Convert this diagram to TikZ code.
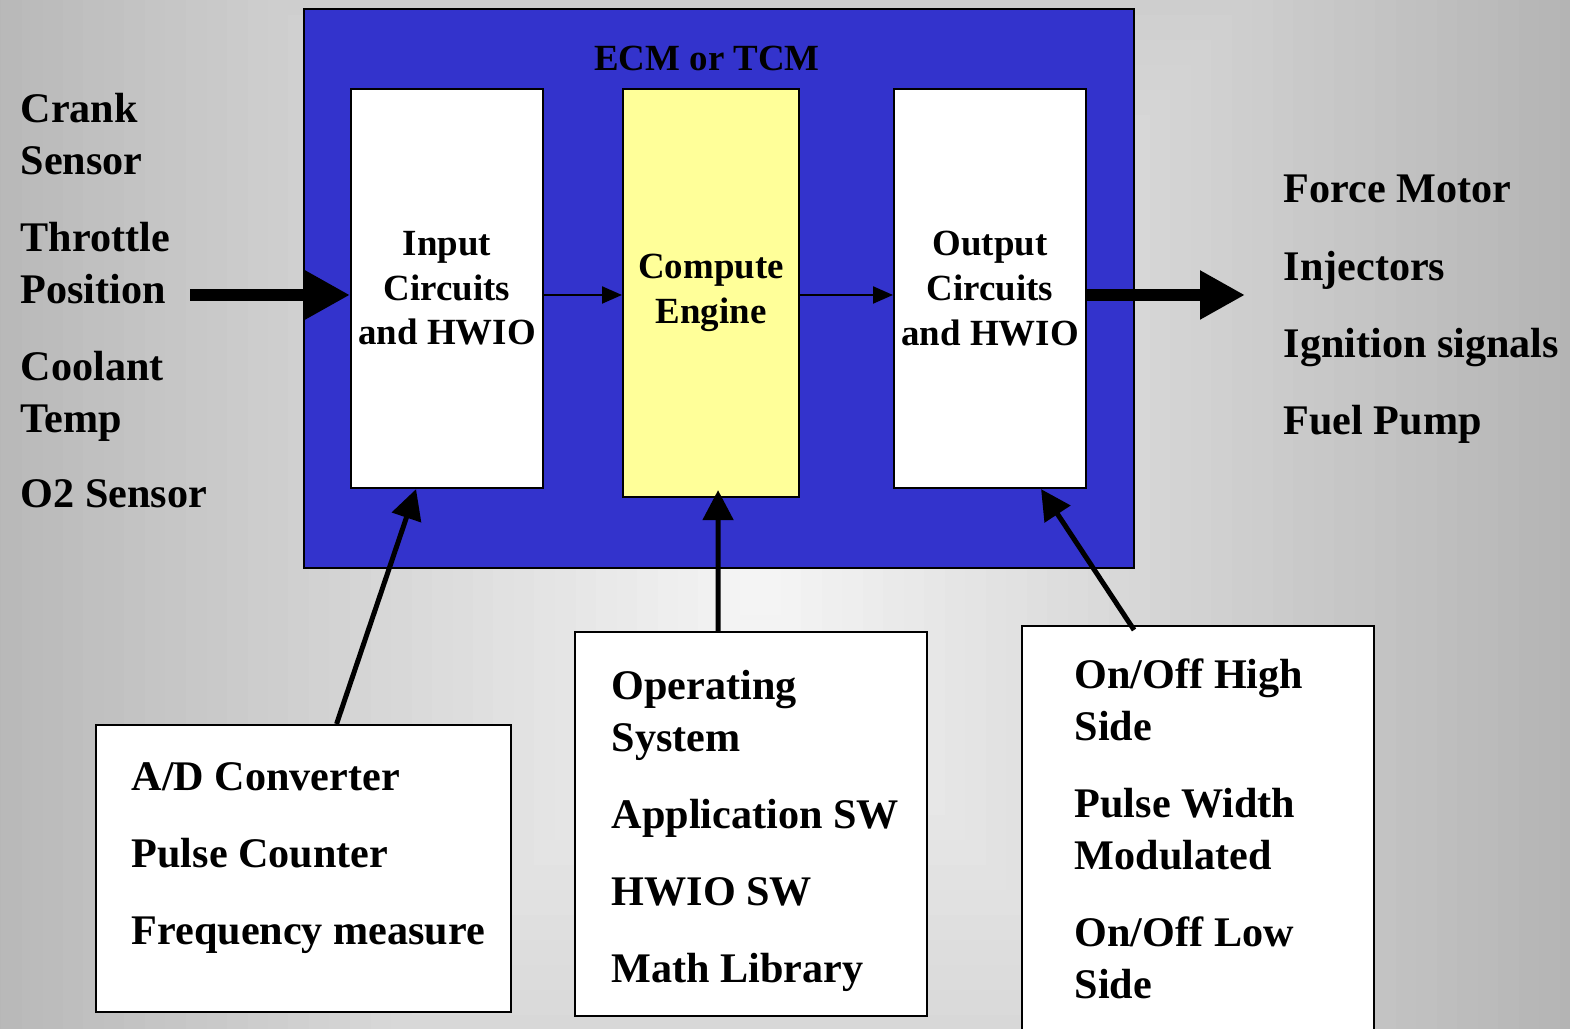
\documentclass[tikz,border=0pt]{standalone}
\usepackage{fontspec}
\setmainfont{Liberation Serif}
\usepackage{xcolor}
\usetikzlibrary{arrows.meta,positioning}

\definecolor{ecmblue}{HTML}{3333CC}
\definecolor{cpuyellow}{HTML}{FFFF99}
\definecolor{bgouter}{HTML}{B4B4B4}
\definecolor{bginner}{HTML}{F6F6F6}

\tikzset{
  module/.style={draw, line width=0.6pt, fill=white, inner sep=0pt},
  boxtext/.style={font=\fontsize{10.5}{12.7}\selectfont\bfseries, align=center},
  sigtext/.style={font=\fontsize{12}{14.8}\selectfont\bfseries, align=left, inner sep=0pt, anchor=north west},
  bigarrow/.style={line width=0.12cm, -{Triangle[length=0.45cm,width=0.46cm]}},
  thinarrow/.style={line width=0.6pt, -{Triangle[length=0.2cm,width=0.17cm]}},
  uparrow/.style={line width=0.05cm, -{Triangle[length=0.3cm,width=0.3cm]}}
}

\begin{document}
\begin{tikzpicture}
  \useasboundingbox (0,0) rectangle (15.70,-10.29);

  % Background, lighter towards the middle
  \begin{scope}
    \clip (0,0) rectangle (15.70,-10.29);
    \foreach \k in {0,...,40}{
      \pgfmathsetmacro{\ringw}{8.2*(1-\k/40)}
      \pgfmathsetmacro{\ringh}{10*(1-\k/40)}
      \pgfmathsetmacro{\ringmix}{100*\k/40}
      \fill[bginner!\ringmix!bgouter] (7.6-\ringw,-5.9-\ringh) rectangle (7.6+\ringw,-5.9+\ringh);
    }
  \end{scope}

  % The controller and its three blocks
  \node[module, fill=ecmblue, minimum width=8.30cm, minimum height=5.59cm, anchor=north west] (ecm) at (3.03,-0.08) {};
  \node[boxtext] (ecmtitle) at (7.07,-0.58) {ECM or TCM};
  \node[module, boxtext, minimum width=1.92cm, minimum height=3.99cm, anchor=north west] (input) at (3.50,-0.88) {Input\\Circuits\\and HWIO};
  \node[module, boxtext, fill=cpuyellow, minimum width=1.76cm, minimum height=4.08cm, anchor=north west] (compute) at (6.22,-0.88) {Compute\\Engine};
  \node[module, boxtext, minimum width=1.92cm, minimum height=3.99cm, anchor=north west] (output) at (8.93,-0.88) {Output\\Circuits\\and HWIO};

  % Signals in and out
  \node[sigtext] (crank) at (0.20,-0.93) {Crank\\Sensor};
  \node[sigtext] (throttle) at (0.20,-2.22) {Throttle\\Position};
  \node[sigtext] (coolant) at (0.20,-3.51) {Coolant\\Temp};
  \node[sigtext] (otwo) at (0.20,-4.79) {O2 Sensor};
  \node[sigtext] (forcemotor) at (12.83,-1.74) {Force Motor};
  \node[sigtext] (injectors) at (12.83,-2.51) {Injectors};
  \node[sigtext] (ignition) at (12.83,-3.28) {Ignition signals};
  \node[sigtext] (fuelpump) at (12.83,-4.05) {Fuel Pump};

  % Boxes below
  \node[module, minimum width=4.15cm, minimum height=2.87cm, anchor=north west] (adbox) at (0.95,-7.24) {};
  \node[module, minimum width=3.52cm, minimum height=3.84cm, anchor=north west] (osbox) at (5.74,-6.31) {};
  \node[module, minimum width=3.52cm, minimum height=4.10cm, anchor=north west] (drvbox) at (10.21,-6.25) {};
  \node[sigtext] (adtext) at (1.31,-7.62) {A/D Converter\\[7.1pt]Pulse Counter\\[7.1pt]Frequency measure};
  \node[sigtext] (ostext) at (6.11,-6.70) {Operating\\System\\[7.1pt]Application SW\\[7.1pt]HWIO SW\\[7.1pt]Math Library};
  \node[sigtext] (drvtext) at (10.74,-6.58) {On/Off High\\Side\\[7.1pt]Pulse Width\\Modulated\\[7.1pt]On/Off Low\\Side};

  % Arrows
  \coordinate (inlead) at (1.90,-2.95);
  \coordinate (outlead) at (12.45,-2.95);
  \draw[bigarrow] (inlead) -- (inlead -| input.west);
  \draw[bigarrow] (inlead -| output.east) -- (outlead);
  \draw[thinarrow] (inlead -| input.east) -- (inlead -| compute.west);
  \draw[thinarrow] (inlead -| compute.east) -- (inlead -| output.west);
  \draw[uparrow] ([xshift=0.33cm]adbox.north) -- ([xshift=-0.31cm]input.south);
  \draw[uparrow] ([xshift=-0.33cm]osbox.north) -- ([xshift=0.07cm,yshift=0.08cm]compute.south);
  \draw[uparrow] ([xshift=-0.64cm,yshift=-0.05cm]drvbox.north) -- ([xshift=0.51cm]output.south);
\end{tikzpicture}
\end{document}
